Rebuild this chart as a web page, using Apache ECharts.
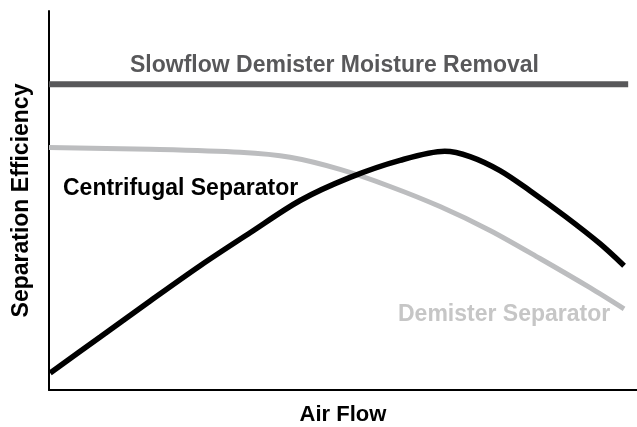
<!DOCTYPE html>
<html><head><meta charset="utf-8">
<script src="https://cdn.jsdelivr.net/npm/echarts@6/dist/echarts.min.js"></script>
<style>html,body{margin:0;padding:0;background:#fff}#c{width:637px;height:427px}</style>
</head><body><div id="c"></div>
<script>
const slowflowX = [0, 98.5];
const slowflowY = [80.7, 80.7];
const centrifugalX = [0.2, 8.7, 17.2, 25.7, 34.2, 42.7, 51.2, 59.7, 67.3, 71.6, 76.7, 81.8, 87.8, 93.7, 97.8];
const centrifugalY = [4.5, 14.0, 23.5, 32.8, 41.5, 50.0, 56.1, 60.6, 63.0, 61.6, 57.9, 52.6, 45.8, 38.6, 32.8];
const demisterX = [0, 17.2, 32.5, 41.0, 49.5, 58.0, 66.5, 75.0, 83.5, 92.0, 97.8];
const demisterY = [64.0, 63.5, 62.7, 61.4, 58.2, 53.7, 48.4, 42.1, 34.7, 27.0, 21.4];
const seriesNames = ['Slowflow Demister Moisture Removal', 'Centrifugal Separator', 'Demister Separator'];
const axisNames = ['Air Flow', 'Separation Efficiency'];

const zip = (xs, ys) => xs.map((x, i) => [x, ys[i]]);
const chart = echarts.init(document.getElementById('c'));
const font = 'Liberation Sans, Arial, Helvetica, sans-serif';
chart.setOption({
  animation: false,
  grid: { left: 49, right: 0, top: 11, bottom: 37, outerBoundsMode: 'none', containLabel: false },
  xAxis: {
    type: 'value', min: 0, max: 100,
    name: axisNames[0], nameLocation: 'middle', nameGap: 25,
    nameTextStyle: { fontFamily: font, fontWeight: 'bold', fontSize: 22, color: '#000', verticalAlign: 'middle' },
    axisLine: { show: true, lineStyle: { color: '#000', width: 2 } },
    axisTick: { show: false }, axisLabel: { show: false }, splitLine: { show: false }
  },
  yAxis: {
    type: 'value', min: 0, max: 100,
    name: axisNames[1], nameLocation: 'middle', nameGap: 27,
    nameTextStyle: { fontFamily: font, fontWeight: 'bold', fontSize: 23, color: '#000', verticalAlign: 'middle' },
    axisLine: { show: true, lineStyle: { color: '#000', width: 2 } },
    axisTick: { show: false }, axisLabel: { show: false }, splitLine: { show: false }
  },
  series: [
    { name: seriesNames[0], type: 'line', data: zip(slowflowX, slowflowY), showSymbol: false,
      lineStyle: { color: '#58585a', width: 6, cap: 'butt' } },
    { name: seriesNames[2], type: 'line', data: zip(demisterX, demisterY), smooth: 0.3, showSymbol: false,
      lineStyle: { color: '#bcbdbf', width: 5, cap: 'butt' } },
    { name: seriesNames[1], type: 'line', data: zip(centrifugalX, centrifugalY), smooth: 0.3, showSymbol: false,
      lineStyle: { color: '#000', width: 5.5, cap: 'butt' } }
  ],
  graphic: [
    { type: 'text', x: 130, y: 66, style: { text: seriesNames[0], fill: '#58585a', font: 'bold 23px ' + font, verticalAlign: 'middle' } },
    { type: 'text', x: 63, y: 189, style: { text: seriesNames[1], fill: '#000', font: 'bold 23px ' + font, verticalAlign: 'middle' } },
    { type: 'text', x: 398, y: 315, style: { text: seriesNames[2], fill: '#c6c6c6', font: 'bold 23px ' + font, verticalAlign: 'middle' } }
  ]
});
</script></body></html>
